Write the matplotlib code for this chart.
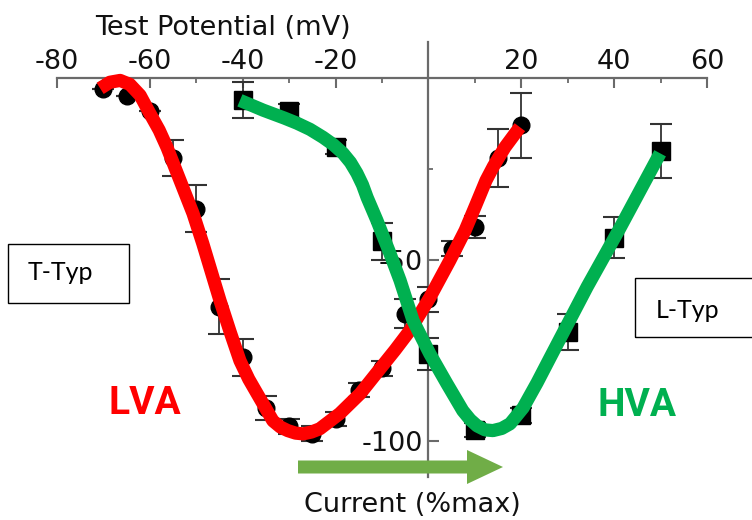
import matplotlib
matplotlib.use("Agg")
import matplotlib.pyplot as plt
from matplotlib.patches import Polygon, Rectangle
from matplotlib.ticker import MultipleLocator, FixedLocator

# ---- data ----
t_x = [-70, -65, -60, -55, -50, -45, -40, -35, -30, -25, -20, -15, -10, -5, 0, 5, 10, 15, 20]
t_y = [-3, -5, -9, -22, -36, -63, -77, -91, -96, -98, -94, -86, -80, -65, -61, -47, -41, -22, -13]
t_err = [0, 0, 0, 5, 6.5, 7.5, 5, 3.3, 2, 2, 2, 2, 2, 4, 3.5, 2, 3, 8, 9]

l_x = [-40, -30, -20, -10, 0, 10, 20, 30, 40, 50]
l_y = [-6, -9, -19, -45, -76, -97, -93, -70, -44, -20]
l_err = [5, 2, 2, 5, 4.4, 2, 2, 5, 5.7, 7.5]

lva_curve_x = [-70.7, -68.6, -66.4, -64.3, -62.1, -60.0, -58.0, -56.3, -53.5, -50.7, -48.6,
               -44.9, -42.7, -40.6, -38.7, -36.9, -33.5, -31.9, -30.3, -28.6, -27.0, -25.2,
               -23.4, -19.1, -14.7, -10.4, -7.2, -4.0, 0.3, 4.6, 7.9, 10.2, 12.4, 14.0, 15.4,
               16.5, 17.6, 18.7, 19.7]
lva_curve_y = [-2.8, -1.1, -0.6, -1.7, -4.7, -9.7, -14.3, -19.1, -28.2, -37.3, -45.6,
               -61.3, -70.0, -77.9, -83.0, -87.0, -94.5, -96.2, -97.2, -97.9, -98.1, -97.6,
               -96.7, -92.5, -87.0, -80.1, -75.0, -69.6, -60.5, -50.3, -42.0, -35.0, -28.2,
               -24.3, -21.3, -19.0, -17.1, -15.2, -13.5]

hva_curve_x = [-40.6, -35.6, -31.0, -28.3, -25.5, -22.7, -20.5, -18.4, -16.8, -15.4, -14.2,
               -13.2, -11.1, -8.3, -6.1, -3.3, 0.3, 4.0, 7.4, 9.0, 10.5, 12.2, 13.9, 15.8,
               17.6, 20.4, 23.4, 26.2, 34.2, 41.3, 49.9]
hva_curve_y = [-6.1, -8.8, -11.0, -12.4, -14.1, -16.3, -18.3, -20.7, -23.2, -26.2, -29.4,
               -32.9, -39.2, -48.3, -55.8, -66.9, -76.0, -84.3, -91.7, -94.2, -95.9, -97.0,
               -97.2, -96.6, -95.3, -90.9, -84.0, -77.1, -57.5, -41.2, -20.7]

x_ticks = [-80, -60, -40, -20, 20, 40, 60]
y_ticks = [-50, -100]

# ---- figure ----
W, H, DPI = 7.52, 5.2, 100
fig = plt.figure(figsize=(W, H), dpi=DPI)
ax = fig.add_axes([57 / 752, 1 - 477 / 520, 650 / 752, 435 / 520])
ax.set_xlim(-80, 60)
ax.set_ylim(-110, 10)
ax.patch.set_visible(False)

axis_col = "#6a6a6a"
for s in ["bottom", "right"]:
    ax.spines[s].set_visible(False)
ax.spines["top"].set_position(("data", 0))
ax.spines["left"].set_position(("data", 0))
for s in ["top", "left"]:
    ax.spines[s].set_color(axis_col)
    ax.spines[s].set_linewidth(1.6)

ax.xaxis.set_ticks_position("top")
ax.xaxis.set_label_position("top")
ax.xaxis.set_major_locator(FixedLocator(x_ticks))
ax.xaxis.set_minor_locator(MultipleLocator(10))
ax.set_xticklabels([str(v) for v in x_ticks])
ax.yaxis.set_ticks_position("left")
ax.yaxis.set_major_locator(FixedLocator(y_ticks))
ax.yaxis.set_minor_locator(FixedLocator([-25, -75]))
ax.set_yticklabels([str(v) for v in y_ticks])

ax.tick_params(axis="x", which="major", direction="in", length=7, width=1.5,
               color=axis_col, labelsize=19.5, pad=2, labelcolor="#111111")
ax.tick_params(axis="x", which="minor", direction="in", length=3.5, width=1.3, color=axis_col)
ax.tick_params(axis="y", which="major", direction="in", length=8, width=1.5,
               color=axis_col, labelsize=19.5, pad=4, labelcolor="#111111")
ax.tick_params(axis="y", which="minor", direction="in", length=3.5, width=1.3, color=axis_col)
for lab in ax.get_xticklabels() + ax.get_yticklabels():
    lab.set_family("DejaVu Sans")

# data points
ax.errorbar(t_x, t_y, yerr=t_err, fmt="o", color="black", ms=12, ecolor="#333333",
            elinewidth=1.3, capsize=8, capthick=1.5, zorder=3)
ax.errorbar(l_x, l_y, yerr=l_err, fmt="s", color="black", ms=13, ecolor="#333333",
            elinewidth=1.3, capsize=8, capthick=1.5, zorder=3)

# hand-drawn curves
ax.plot(lva_curve_x, lva_curve_y, color="#FF0000", lw=9.5, solid_capstyle="butt",
        solid_joinstyle="round", zorder=4)
ax.plot(hva_curve_x, hva_curve_y, color="#00B050", lw=9.5, solid_capstyle="butt",
        solid_joinstyle="round", zorder=5)

# ---- texts / annotations ----
fig.text(2.23 / W, (520 - 35) / 520, "Test Potential (mV)", ha="center", va="baseline",
         fontsize=19.5, family="DejaVu Sans", color="#111111")
fig.text(4.12 / W, (520 - 512) / 520, "Current (%max)", ha="center", va="baseline",
         fontsize=19.5, family="DejaVu Sans", color="#111111")

tr = fig.dpi_scale_trans
fig.patches.append(Rectangle((0.08, (520 - 303) / 100), 1.21, 0.59, transform=tr,
                             fill=False, ec="black", lw=1.0))
fig.patches.append(Rectangle((6.35, (520 - 337) / 100), 1.3, 0.59, transform=tr,
                             fill=False, ec="black", lw=1.0))
fig.text(0.28 / W, (520 - 273) / 520, "T-Typ", ha="left", va="center", fontsize=18,
         family="Lato", color="black")
fig.text(6.56 / W, (520 - 310) / 520, "L-Typ", ha="left", va="center", fontsize=18,
         family="Lato", color="black")
fig.text(1.08 / W, (520 - 403) / 520, "LVA", ha="left", va="center", fontsize=28,
         family="Roboto", weight="bold", color="#FF0000")
fig.text(5.97 / W, (520 - 405) / 520, "HVA", ha="left", va="center", fontsize=28,
         family="Roboto", weight="bold", color="#00B050")

# block arrow
yc = (520 - 467) / 100
arrow = Polygon([(2.98, yc - 0.065), (4.67, yc - 0.065), (4.67, yc - 0.17), (5.03, yc),
                 (4.67, yc + 0.17), (4.67, yc + 0.065), (2.98, yc + 0.065)],
                closed=True, transform=tr, fc="#70AD47", ec="none")
fig.patches.append(arrow)

fig.savefig("out.png", dpi=DPI)
